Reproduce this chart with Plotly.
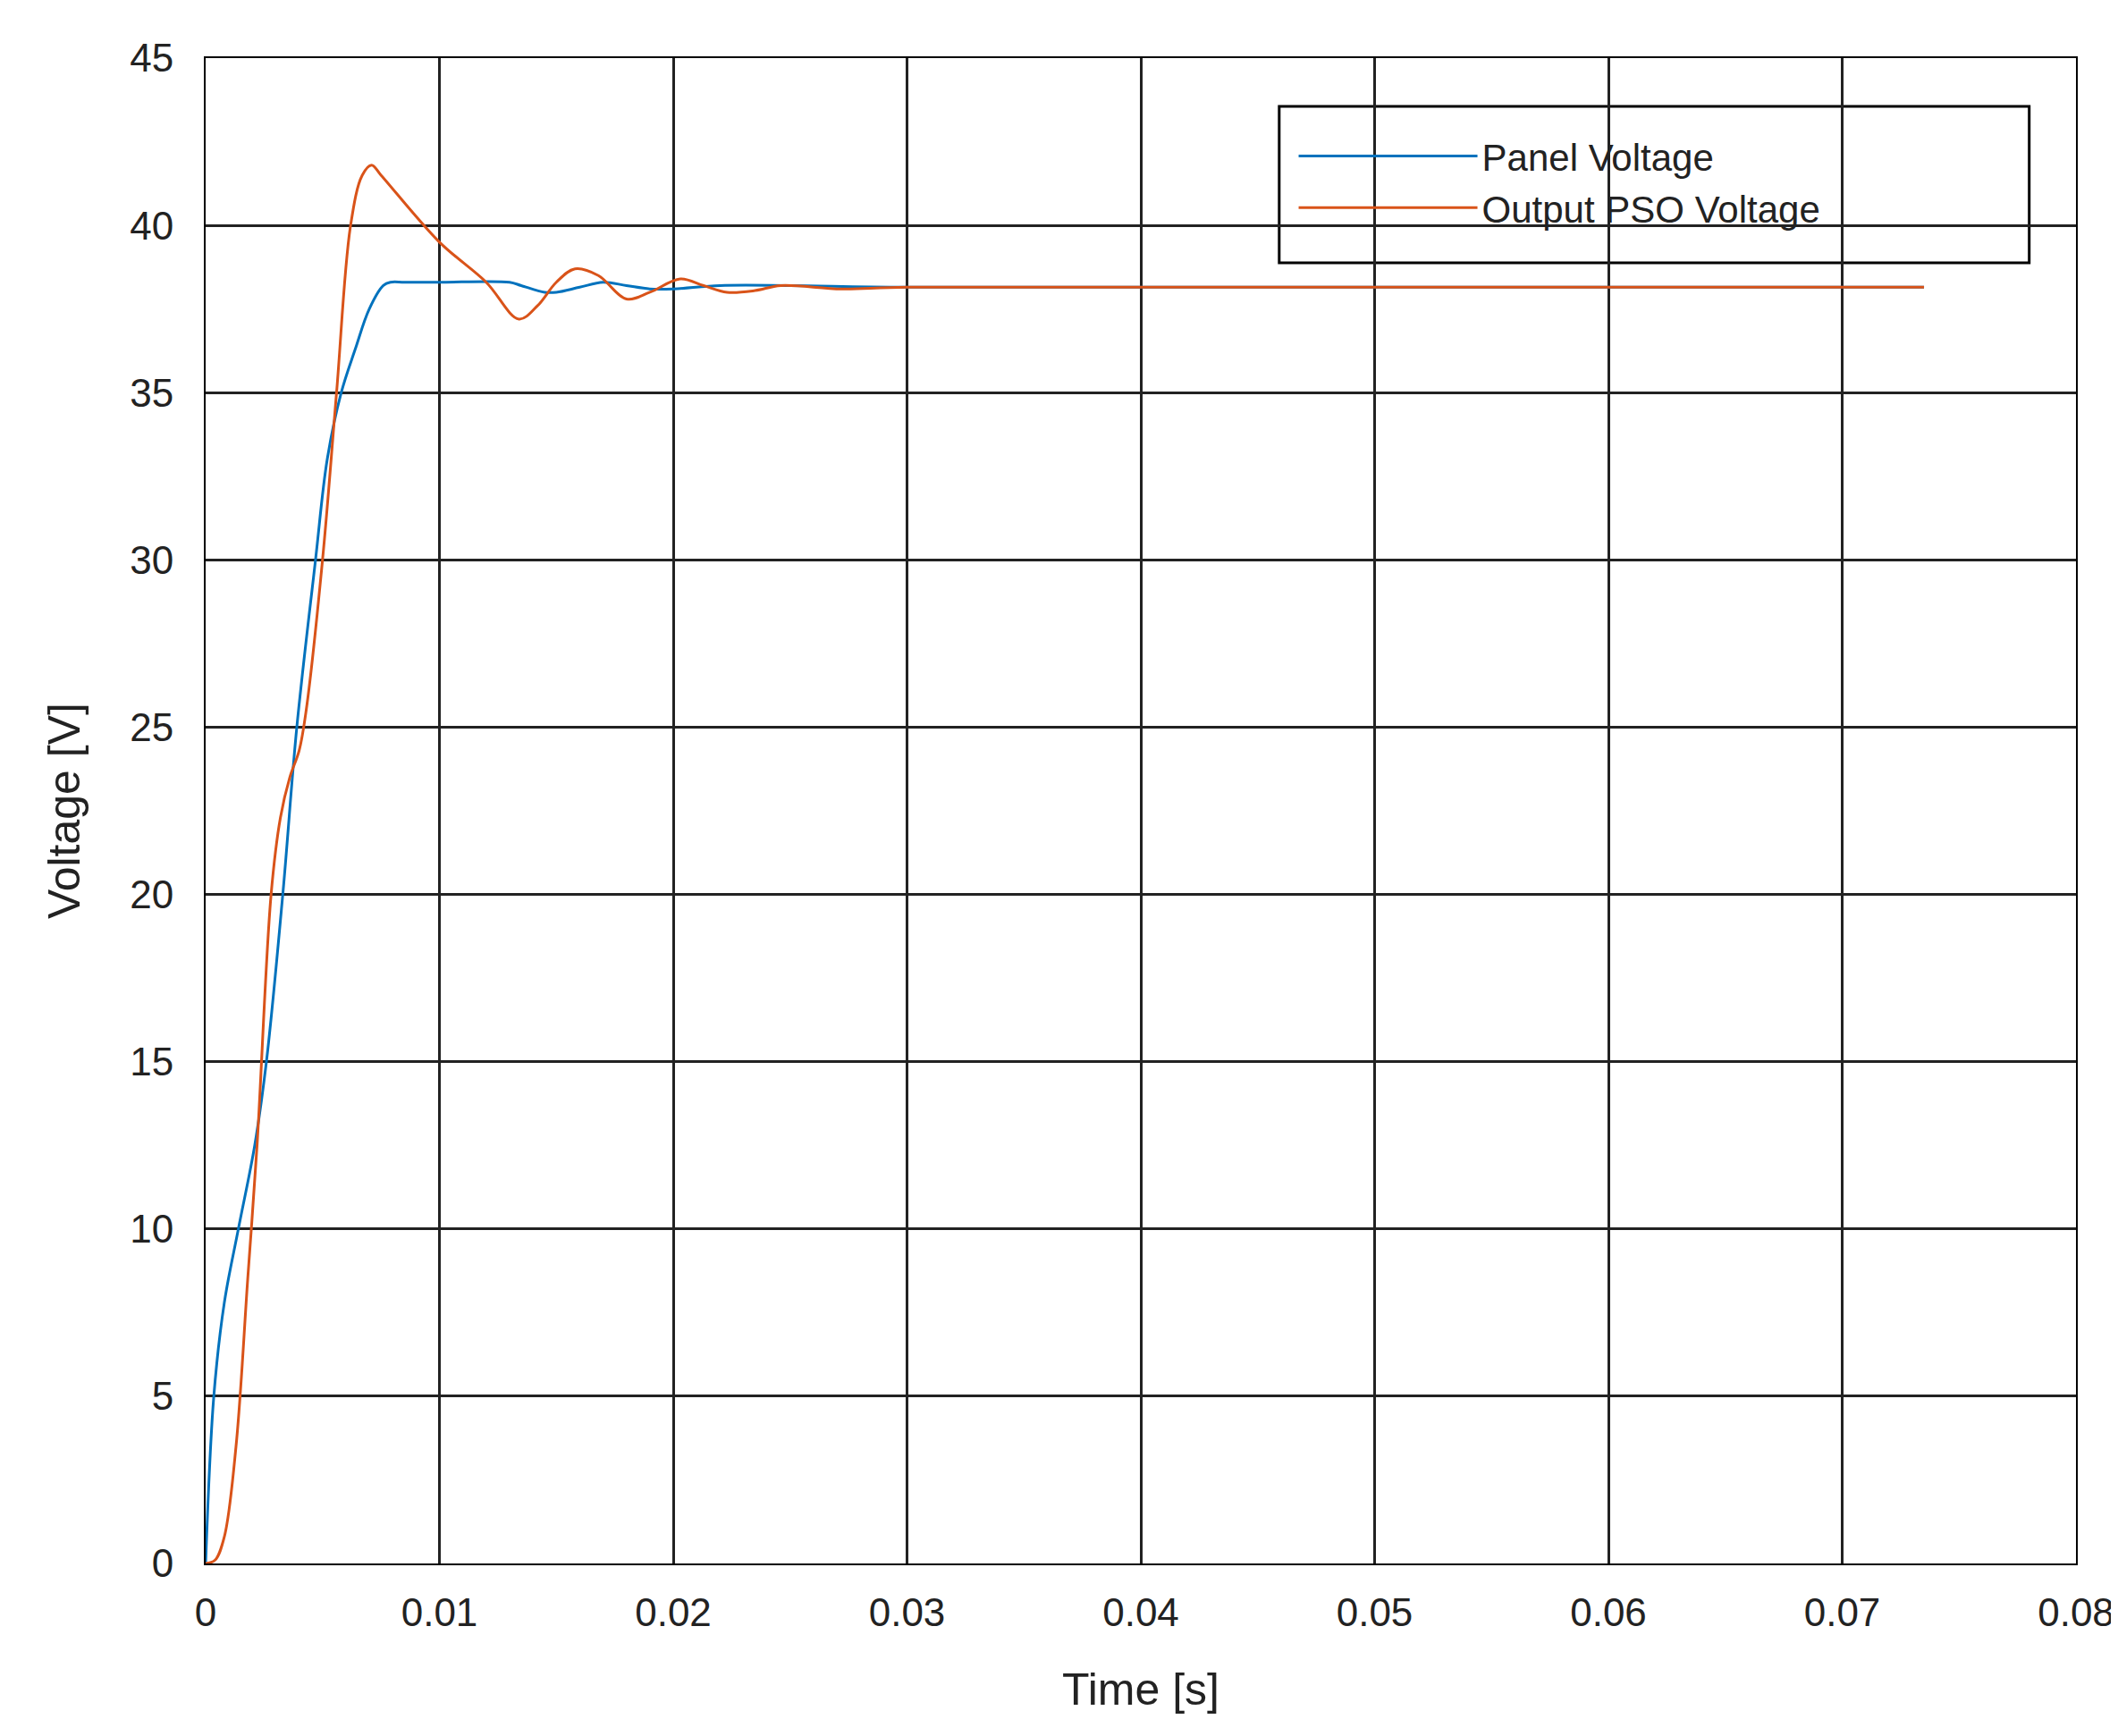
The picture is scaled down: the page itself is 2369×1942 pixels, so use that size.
import plotly.graph_objects as go

# Panel voltage (blue)
t_panel = [0, 0.00035, 0.0008, 0.0014, 0.0021, 0.0026, 0.0033, 0.0039, 0.0047, 0.0052, 0.0058,
           0.0064, 0.007, 0.0076, 0.0079, 0.0085, 0.01, 0.013, 0.0135, 0.0145, 0.015, 0.016,
           0.017, 0.018, 0.019, 0.02, 0.022, 0.025, 0.03, 0.0735]
v_panel = [0, 5, 7.8, 10, 12.5, 15, 20, 25, 30, 33, 35,
           36.3, 37.5, 38.2, 38.3, 38.3, 38.3, 38.3, 38.2, 38.0, 38.0, 38.15,
           38.3, 38.2, 38.1, 38.1, 38.2, 38.2, 38.15, 38.15]

# Output PSO voltage (orange)
t_out = [0, 0.0004, 0.0008, 0.0013, 0.0018, 0.0022, 0.0028, 0.0032, 0.0036, 0.004, 0.0043,
         0.005, 0.0056, 0.0062, 0.0067, 0.0071, 0.0075, 0.01, 0.012, 0.0134, 0.0142, 0.015,
         0.0158, 0.0168, 0.018, 0.019, 0.0203, 0.0213, 0.0223, 0.0235, 0.0246, 0.0272, 0.03, 0.0735]
v_out = [0, 0.1, 0.8, 3.5, 8.5, 12.5, 20, 22.3, 23.5, 24.3, 25.5,
         30, 35, 40, 41.5, 41.8, 41.5, 39.5, 38.3, 37.2, 37.6, 38.3,
         38.7, 38.5, 37.8, 38.0, 38.4, 38.2, 38.0, 38.05, 38.2, 38.1, 38.15, 38.15]

x_ticks = [0, 0.01, 0.02, 0.03, 0.04, 0.05, 0.06, 0.07, 0.08]
x_labels = ["0", "0.01", "0.02", "0.03", "0.04", "0.05", "0.06", "0.07", "0.08"]

fig = go.Figure()
fig.add_trace(go.Scatter(x=t_panel, y=v_panel, mode="lines", name="Panel Voltage",
                         line=dict(color="#0072BD", width=3, shape="spline")))
fig.add_trace(go.Scatter(x=t_out, y=v_out, mode="lines", name="Output PSO Voltage",
                         line=dict(color="#D95319", width=3, shape="spline")))

axis = dict(showline=True, linecolor="black", linewidth=2, mirror=True,
            showgrid=True, gridcolor="#222222", gridwidth=3, zeroline=False,
            ticks="", tickfont=dict(size=44, color="#222222"),
            title_font=dict(size=50, color="#222222"))

fig.update_layout(
    width=2369, height=1942,
    paper_bgcolor="white", plot_bgcolor="white",
    font=dict(family="Liberation Sans, Arial, sans-serif"),
    margin=dict(l=222, r=45, t=57, b=201),
    xaxis=dict(axis, range=[0, 0.08], tickvals=x_ticks, ticktext=x_labels,
               title_text="Time [s]", title_standoff=45, ticklabelstandoff=15),
    yaxis=dict(axis, range=[0, 45], dtick=5, title_text="Voltage [V]",
               title_standoff=40, ticklabelstandoff=25),
    legend=dict(x=0.582, y=0.955, xanchor="left", yanchor="top",
                borderwidth=0, bgcolor="rgba(0,0,0,0)",
                font=dict(size=42, color="#222222"), itemwidth=200,
                tracegroupgap=0),
    shapes=[dict(type="rect", xref="paper", yref="paper",
                 x0=0.574, x1=0.975, y0=0.864, y1=0.968,
                 line=dict(color="black", width=3), fillcolor="white", layer="below")],
    showlegend=True,
)

fig.write_html("out.html")
